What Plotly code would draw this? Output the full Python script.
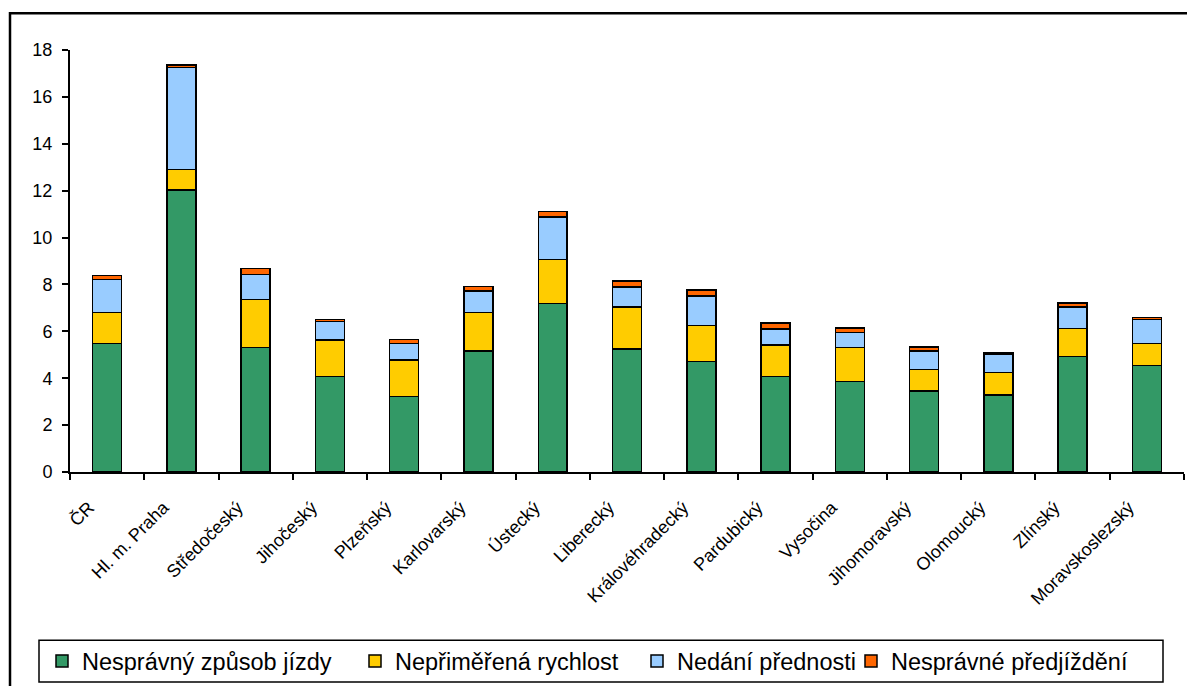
import plotly.graph_objects as go

# Regions (kraje) and the Czech Republic total
regions = ["ČR", "Hl. m. Praha", "Středočeský", "Jihočeský", "Plzeňský", "Karlovarský",
           "Ústecký", "Liberecký", "Královéhradecký", "Pardubický", "Vysočina",
           "Jihomoravský", "Olomoucký", "Zlínský", "Moravskoslezský"]

# Stacked components per region
nespravny_zpusob = [5.48, 12.03, 5.31, 4.07, 3.22, 5.17, 7.19, 5.24, 4.71, 4.07, 3.85, 3.46, 3.29, 4.93, 4.54]
neprimerena_rychlost = [1.32, 0.87, 2.05, 1.56, 1.56, 1.63, 1.88, 1.79, 1.54, 1.34, 1.46, 0.92, 0.95, 1.19, 0.94]
nedani_prednosti = [1.42, 4.35, 1.07, 0.78, 0.70, 0.92, 1.80, 0.86, 1.25, 0.70, 0.63, 0.78, 0.79, 0.92, 1.03]
nespravne_predjizdeni = [0.16, 0.10, 0.26, 0.09, 0.17, 0.19, 0.24, 0.26, 0.27, 0.24, 0.20, 0.18, 0.07, 0.17, 0.08]

series = [
    ("Nesprávný způsob jízdy", nespravny_zpusob, "#339966"),
    ("Nepřiměřená rychlost", neprimerena_rychlost, "#FFCC00"),
    ("Nedání přednosti", nedani_prednosti, "#99CCFF"),
    ("Nesprávné předjíždění", nespravne_predjizdeni, "#FF6600"),
]

W, H = 1187, 686
L, R, T, B = 70, 3, 50, 212
pw, ph = W - L - R, H - T - B


def px_x(x):
    return (x - L) / pw


def px_y(y):
    return (H - B - y) / ph


# each series gets its own legend box so the entries can be spaced freely
legend_ids = ["legend", "legend2", "legend3", "legend4"]
legend_left = [42, 355, 637, 851]

fig = go.Figure()
for (name, vals, color), lid in zip(series, legend_ids):
    fig.add_trace(go.Bar(
        x=regions, y=vals, name=name, legend=lid,
        marker=dict(color=color, line=dict(color="black", width=1.5)),
    ))

shapes = [
    # outer chart frame
    dict(type="rect", xref="paper", yref="paper",
         x0=px_x(10), x1=px_x(1200), y0=px_y(700), y1=px_y(13),
         line=dict(color="black", width=2.5), fillcolor="rgba(0,0,0,0)", layer="below"),
    # legend frame
    dict(type="rect", xref="paper", yref="paper",
         x0=px_x(39), x1=px_x(1163), y0=px_y(685), y1=px_y(643),
         line=dict(color="black", width=1.5), fillcolor="rgba(0,0,0,0)"),
]

legend_style = dict(
    orientation="h", xanchor="left",
    y=px_y(664), yanchor="middle",
    font=dict(size=23.5, color="black"),
    bgcolor="rgba(0,0,0,0)", borderwidth=0,
    itemwidth=30,
)
legends = {lid: dict(legend_style, x=px_x(xl)) for lid, xl in zip(legend_ids, legend_left)}

fig.update_layout(
    width=W, height=H,
    margin=dict(l=L, r=R, t=T, b=B),
    paper_bgcolor="white", plot_bgcolor="white",
    barmode="stack", bargap=0.61,
    font=dict(family="Liberation Sans, Arial, sans-serif", color="black", size=17),
    showlegend=True,
    shapes=shapes,
    xaxis=dict(
        type="category", tickangle=-45, tickson="boundaries",
        ticks="outside", ticklen=6, tickwidth=1.5, tickcolor="black",
        showline=True, linecolor="black", linewidth=2,
        showgrid=False, tickfont=dict(size=18),
        ticklabelshift=-18, ticklabelstandoff=16,
    ),
    yaxis=dict(
        range=[0, 18], tickvals=list(range(0, 19, 2)),
        ticks="outside", ticklen=6, tickwidth=1.5, tickcolor="black",
        showline=True, linecolor="black", linewidth=2,
        showgrid=False, zeroline=False, tickfont=dict(size=18),
        ticklabelstandoff=6,
    ),
    **legends,
)

fig.write_html("out.html")
